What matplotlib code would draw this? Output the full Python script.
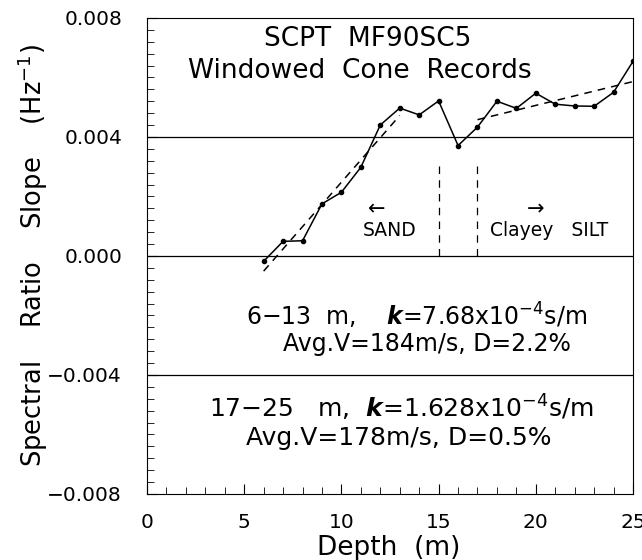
import matplotlib
matplotlib.use("Agg")
import matplotlib.pyplot as plt
from matplotlib.ticker import MultipleLocator
import numpy as np

# windowed cone records, spectral ratio slope vs depth
depth = [6, 7, 8, 9, 10, 11, 12, 13, 14, 15, 16, 17, 18, 19, 20, 21, 22, 23, 24, 25]
slope = [-0.00018, 0.00049, 0.00051, 0.00175, 0.00214, 0.00298, 0.0044, 0.00497,
         0.00474, 0.00521, 0.00371, 0.00433, 0.0052, 0.00496, 0.00547, 0.0051,
         0.00504, 0.00503, 0.0055, 0.00654]

# linear fits (end points)
fit1_depth = [6, 13]
fit1_slope = [-0.00051, 0.00472]
fit2_depth = [17, 25]
fit2_slope = [0.00458, 0.00586]

# sand / clayey silt boundary
boundary_depth = [15, 17]
boundary_top = 0.0032

plt.rcParams["font.family"] = "DejaVu Sans"
plt.rcParams["mathtext.fontset"] = "dejavusans"

fig = plt.figure(figsize=(6.42, 5.6), dpi=100)
ax = fig.add_axes([0.229, 0.118, 0.757, 0.85])

for yy in [0.004, 0.0, -0.004]:
    ax.axhline(yy, color="black", lw=0.9)

ax.plot(depth, slope, color="black", lw=1.1, marker="o", markersize=3)
ax.plot(fit1_depth, fit1_slope, color="black", lw=1.1, ls=(0, (5, 4)))
ax.plot(fit2_depth, fit2_slope, color="black", lw=1.1, ls=(0, (5, 4)))
for xb in boundary_depth:
    ax.plot([xb, xb], [0, boundary_top], color="black", lw=0.9, ls=(0, (6, 5)))

ax.text(11.37, 0.0073, "SCPT  MF90SC5", ha="center", va="center", fontsize=19)
ax.text(10.96, 0.00622, "Windowed  Cone  Records", ha="center", va="center", fontsize=19)

ax.text(11.8, 0.00158, "←", ha="center", va="center", fontsize=15)
ax.text(12.5, 0.00084, "SAND", ha="center", va="center", fontsize=13.5)
ax.text(19.96, 0.00158, "→", ha="center", va="center", fontsize=15)
ax.text(20.7, 0.00084, "Clayey   SILT", ha="center", va="center", fontsize=13.5)

ax.text(13.86, -0.00202, r"6$-$13  m,    $\mathbfit{k}$=7.68x10$^{-4}$s/m",
        ha="center", va="center", fontsize=17)
ax.text(14.4, -0.00296, "Avg.V=184m/s, D=2.2%", ha="center", va="center", fontsize=17)
ax.text(13.07, -0.00512, r"17$-$25   m,  $\mathbfit{k}$=1.628x10$^{-4}$s/m",
        ha="center", va="center", fontsize=18)
ax.text(12.94, -0.00612, "Avg.V=178m/s, D=0.5%", ha="center", va="center", fontsize=18)

ax.set_xlim(0, 25)
ax.set_ylim(-0.008, 0.008)
ax.xaxis.set_major_locator(MultipleLocator(5))
ax.xaxis.set_minor_locator(MultipleLocator(1))
ax.yaxis.set_major_locator(MultipleLocator(0.004))
ax.yaxis.set_minor_locator(MultipleLocator(0.0004))
ax.set_yticks(np.arange(-0.008, 0.0081, 0.004))
ax.set_yticklabels(["\u22120.008", "\u22120.004", "0.000", "0.004", "0.008"])
ax.tick_params(which="both", direction="in", labelsize=14.5)
ax.tick_params(axis="x", which="both", pad=14)
ax.tick_params(axis="y", which="both", pad=18)
ax.tick_params(which="major", length=7)
ax.tick_params(which="minor", length=5)

ax.set_xlabel("Depth  (m)", fontsize=19)
ax.set_ylabel("Spectral    Ratio    Slope    (Hz$^{-1}$)", fontsize=18.5)
ax.xaxis.set_label_coords(0.497, -0.086)
ax.yaxis.set_label_coords(-0.2, 0.5)

fig.savefig("out.png", dpi=100)
